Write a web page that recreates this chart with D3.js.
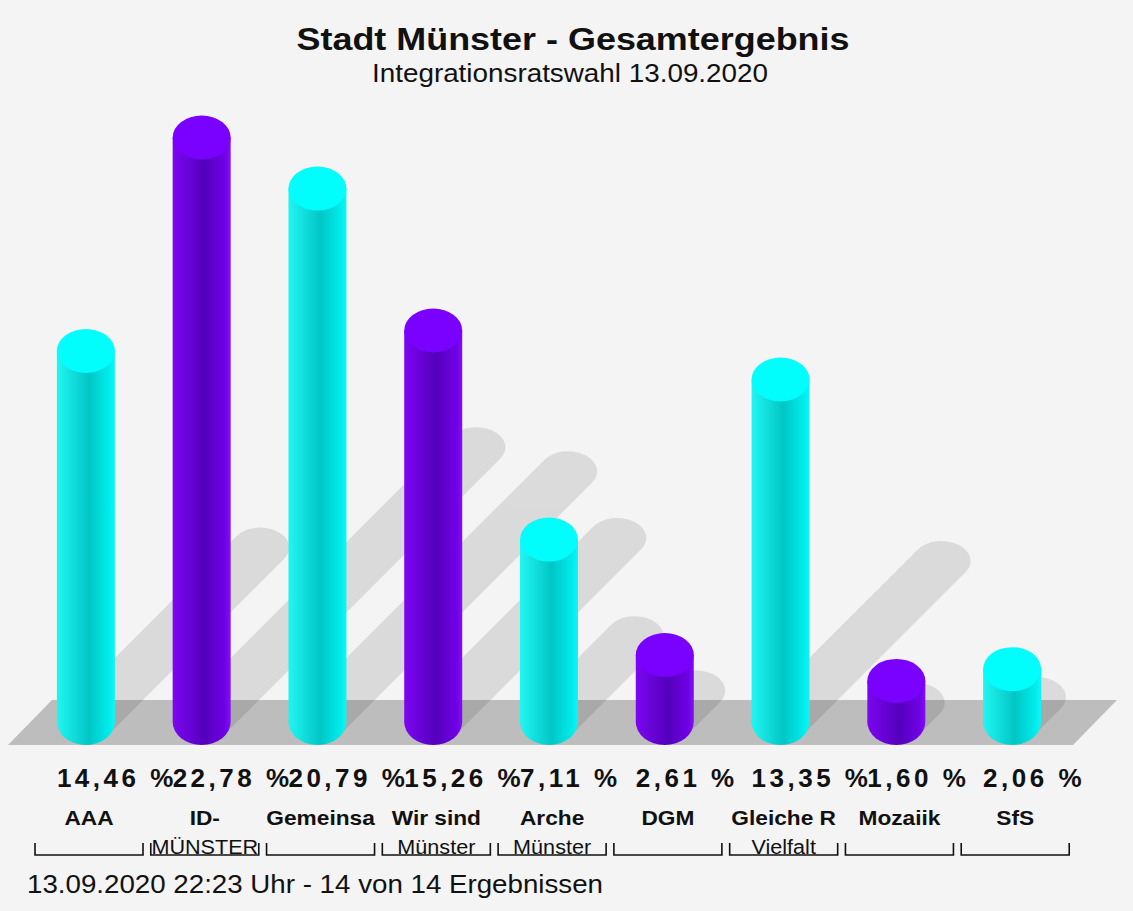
<!DOCTYPE html>
<html>
<head>
<meta charset="utf-8">
<script src="https://cdn.jsdelivr.net/npm/d3@7"></script>
<style>
  body { margin: 0; background: #f4f4f4; }
  text { font-family: "Liberation Sans", Arial, sans-serif; fill: #111; }
</style>
</head>
<body>
<div id="chart"></div>
<script>
// values
var labels = [["AAA"], ["ID-", "MÜNSTER"], ["Gemeinsa"], ["Wir sind", "Münster"], ["Arche", "Münster"],
              ["DGM"], ["Gleiche R", "Vielfalt"], ["Mozaiik"], ["SfS"]];
var values = [14.46, 22.78, 20.79, 15.26, 7.11, 2.61, 13.35, 1.60, 2.06];
var colorKeys = ["cyan", "purple", "cyan", "purple", "cyan", "purple", "cyan", "purple", "cyan"];
var title = "Stadt Münster - Gesamtergebnis";
var subtitle = "Integrationsratswahl 13.09.2020";
var footer = "13.09.2020 22:23 Uhr - 14 von 14 Ergebnissen";

var width = 1133, height = 911;
var rx = 29, ryTop = 22, ryBase = 23, ryShadow = 20;
var baseY = 722;

var svg = d3.select("#chart").append("svg")
	.attr("width", width)
	.attr("height", height);

svg.append("rect").attr("width", width).attr("height", height).attr("fill", "#f4f4f4");

var x = d3.scaleBand().domain(d3.range(values.length)).range([28, 1070]);
var y = d3.scaleLinear().domain([0, 22.78]).range([baseY, 137.5]);
function cx(i) { return x(i) + x.bandwidth() / 2; }

var defs = svg.append("defs");
var grads = {
	cyan: { top: "#02fdfd", stops: [[0, "#22f6f2"], [0.55, "#00c6c6"], [0.9, "#00ecec"], [1, "#10f6f6"]] },
	purple: { top: "#7a00ff", stops: [[0, "#7c06f2"], [0.55, "#5400bc"], [0.9, "#7000e6"], [1, "#8010f4"]] }
};
Object.keys(grads).forEach(function(k) {
	var g = defs.append("linearGradient").attr("id", "cyl-" + k)
		.attr("x1", 0).attr("x2", 1).attr("y1", 0).attr("y2", 0);
	grads[k].stops.forEach(function(s) {
		g.append("stop").attr("offset", s[0]).attr("stop-color", s[1]);
	});
});

// floor
var r0 = x.range()[0], r1 = x.range()[1];
svg.append("path")
	.attr("d", "M" + (r0 - 20) + ",745L" + (r0 + 24) + ",700L" + (r1 + 47) + ",700L" + (r1 + 3) + ",745Z")
	.attr("fill", "#bdbdbd");

// shadows (cylinder base swept up-right)
var t0 = Math.atan(ryShadow / rx);
var px = rx * Math.cos(t0), py = ryShadow * Math.sin(t0);
var shadows = svg.append("g").attr("opacity", 0.1);
shadows.selectAll("path")
	.data(values)
	.enter().append("path")
	.attr("fill", "#000")
	.attr("d", function(d, i) {
		var L = 0.47 * (baseY - y(d));
		var bx = cx(i), by = baseY, ex = bx + L, ey = baseY - L;
		return "M" + (bx + px) + "," + (by + py) +
			"L" + (ex + px) + "," + (ey + py) +
			"A" + rx + "," + ryShadow + " 0 0 0 " + (ex - px) + "," + (ey - py) +
			"L" + (bx - px) + "," + (by - py) +
			"A" + rx + "," + ryShadow + " 0 0 0 " + (bx + px) + "," + (by + py) + "Z";
	});

// cylinders
var bars = svg.selectAll(".bar")
	.data(values)
	.enter().append("g")
	.attr("class", "bar");

bars.append("path")
	.attr("fill", function(d, i) { return "url(#cyl-" + colorKeys[i] + ")"; })
	.attr("d", function(d, i) {
		var l = cx(i) - rx, r = cx(i) + rx;
		return "M" + l + "," + y(d) + "L" + l + "," + baseY +
			"A" + rx + "," + ryBase + " 0 0 0 " + r + "," + baseY +
			"L" + r + "," + y(d) + "Z";
	});

bars.append("ellipse")
	.attr("cx", function(d, i) { return cx(i); })
	.attr("cy", function(d) { return y(d); })
	.attr("rx", rx)
	.attr("ry", ryTop)
	.attr("fill", function(d, i) { return grads[colorKeys[i]].top; });

// value labels
var fmt = d3.format(".2f");
svg.selectAll(".value")
	.data(values)
	.enter().append("text")
	.attr("class", "value")
	.attr("x", function(d, i) { return cx(i) - rx; })
	.attr("y", 787)
	.attr("font-size", 26)
	.attr("font-weight", "bold")
	.attr("letter-spacing", 3.5)
	.text(function(d) { return fmt(d).replace(".", ",") + " %"; });

// category labels
var cats = svg.selectAll(".cat")
	.data(labels)
	.enter().append("g")
	.attr("class", "cat")
	.attr("transform", function(d, i) { return "translate(" + (x(i) + 61) + ",0)"; });

cats.selectAll("text")
	.data(function(d) { return d; })
	.enter().append("text")
	.attr("text-anchor", "middle")
	.attr("y", function(d, j) { return j == 0 ? 825 : 854; })
	.attr("font-size", function(d, j) { return j == 0 ? 21 : 20; })
	.attr("font-weight", function(d, j) { return j == 0 ? "bold" : "normal"; })
	.text(function(d) { return d; })
	.each(function() {
		var w = this.getComputedTextLength();
		d3.select(this).attr("textLength", w * 1.08).attr("lengthAdjust", "spacingAndGlyphs");
	});

// brackets
cats.append("path")
	.attr("d", "M-54,843V855H54V843")
	.attr("fill", "none")
	.attr("stroke", "#111")
	.attr("stroke-width", 1.6);

// titles
svg.append("text")
	.attr("x", 573).attr("y", 50)
	.attr("text-anchor", "middle")
	.attr("font-size", 31)
	.attr("font-weight", "bold")
	.attr("textLength", 553).attr("lengthAdjust", "spacingAndGlyphs")
	.text(title);

svg.append("text")
	.attr("x", 570).attr("y", 82)
	.attr("text-anchor", "middle")
	.attr("font-size", 25)
	.attr("textLength", 396).attr("lengthAdjust", "spacingAndGlyphs")
	.attr("fill", "#222")
	.text(subtitle);

svg.append("text")
	.attr("x", 27).attr("y", 893)
	.attr("font-size", 26)
	.attr("textLength", 576).attr("lengthAdjust", "spacingAndGlyphs")
	.attr("fill", "#222")
	.text(footer);
</script>
</body>
</html>
